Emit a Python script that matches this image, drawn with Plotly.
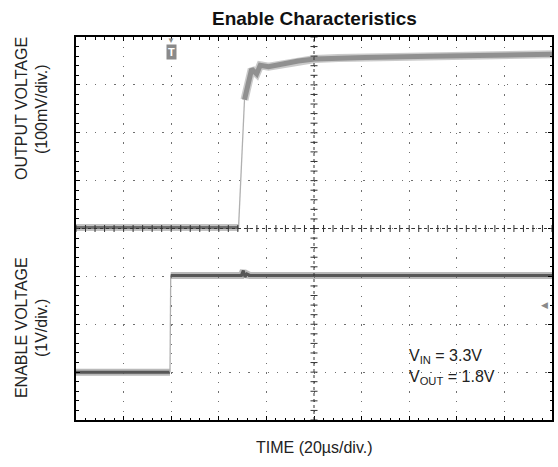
import numpy as np
import plotly.graph_objects as go

# ---------------- data ----------------
# Output voltage channel: time in µs (trigger at 0), value in mV above the channel baseline
out_t = [-40, 28.3, 29.05, 30.1, 30.8, 32.1, 33.4, 33.8, 35.9, 37.4, 40.9, 48.0,
         53.4, 60.4, 70.1, 81.3, 109, 137, 160]
out_mv = [2, 2, 80, 206, 269, 300, 327, 333, 323, 341, 338, 345,
          350, 354, 356, 357, 360, 362, 364]
# Enable voltage channel: time in µs, value in V
en_t = [-40, -0.5, -0.2, 29.5, 30.3, 31.0, 31.8, 33.0, 160]
en_v = [0, 0, 2.02, 2.02, 2.12, 1.99, 2.05, 2.02, 2.02]

title = "Enable Characteristics"
x_title = "TIME (20µs/div.)"
y1_lines = ["OUTPUT VOLTAGE", "(100mV/div.)"]
y2_lines = ["ENABLE VOLTAGE", "(1V/div.)"]
note_lines = ["V<sub>IN</sub> = 3.3V", "V<sub>OUT</sub> = 1.8V"]
trig_level_v = 1.4

FONT = "Liberation Sans, Arial, sans-serif"
W, H = 558, 467
ML, MR, MT, MB = 76, 4, 37, 47

fig = go.Figure()


def band(ts, vs, yaxis, outer, inner, wo, wi):
    fig.add_trace(go.Scatter(x=ts, y=vs, mode="lines", yaxis=yaxis,
                             line=dict(color=outer, width=wo),
                             hoverinfo="skip", showlegend=False))
    fig.add_trace(go.Scatter(x=ts, y=vs, mode="lines", yaxis=yaxis,
                             line=dict(color=inner, width=wi),
                             hoverinfo="skip", showlegend=False))


def edge(ts, vs, yaxis):
    fig.add_trace(go.Scatter(x=ts, y=vs, mode="lines", yaxis=yaxis,
                             line=dict(color="#b0b0b0", width=1.3),
                             hoverinfo="skip", showlegend=False))


# output trace: baseline, fast edge, settled top
band(out_t[:2], out_mv[:2], "y", "rgba(120,120,120,0.45)", "#6e6e6e", 7, 3)
edge(out_t[1:5], out_mv[1:5], "y")
band(out_t[4:], out_mv[4:], "y", "rgba(150,150,150,0.5)", "#909090", 8, 5)

# enable trace: low, edge, high
band(en_t[:2], en_v[:2], "y2", "rgba(100,100,100,0.45)", "#575757", 7, 3)
edge(en_t[1:3], en_v[1:3], "y2")
band(en_t[2:], en_v[2:], "y2", "rgba(100,100,100,0.45)", "#575757", 7, 3)

# minor tick marks along the centre graticule lines
xt = np.arange(-40, 160.1, 4)
yt = np.arange(-400, 400.1, 20)
fig.add_trace(go.Scatter(x=xt, y=[0] * len(xt), mode="markers",
                         marker=dict(symbol="line-ns", size=5,
                                     line=dict(width=1, color="#333")),
                         hoverinfo="skip", showlegend=False))
fig.add_trace(go.Scatter(x=[60] * len(yt), y=yt, mode="markers",
                         marker=dict(symbol="line-ew", size=5,
                                     line=dict(width=1, color="#333")),
                         hoverinfo="skip", showlegend=False))

grid_common = dict(showgrid=True, gridcolor="#707070", gridwidth=1.3,
                   griddash="1.3px,8.28px", zeroline=False,
                   showticklabels=False, ticks="inside", ticklen=4,
                   tickcolor="black", showline=True, linecolor="black",
                   linewidth=2, mirror="ticks")

fig.update_layout(
    width=W, height=H,
    margin=dict(l=ML, r=MR, t=MT, b=MB),
    plot_bgcolor="white", paper_bgcolor="white",
    font=dict(family=FONT, color="#222"),
    showlegend=False,
    xaxis=dict(range=[-40, 160], dtick=20,
               minor=dict(dtick=4, ticks="inside", ticklen=2.5,
                          tickcolor="black", showgrid=False),
               **grid_common),
    yaxis=dict(range=[-400, 400], dtick=100,
               minor=dict(dtick=20, ticks="inside", ticklen=2.5,
                          tickcolor="black", showgrid=False),
               **grid_common),
    yaxis2=dict(range=[-1, 7], overlaying="y", showgrid=False,
                zeroline=False, showticklabels=False, ticks="",
                showline=False),
    shapes=[
        dict(type="line", xref="x", yref="paper", x0=60, x1=60, y0=0, y1=1,
             line=dict(color="#333", width=1, dash="dot")),
        dict(type="line", xref="paper", yref="y", x0=0, x1=1, y0=0, y1=0,
             line=dict(color="#333", width=1, dash="dot")),
    ],
)

ann = []
ann.append(dict(text="<b>%s</b>" % title, xref="paper", yref="paper",
                x=0.5, y=1.047, yanchor="middle", showarrow=False,
                font=dict(size=19, family=FONT, color="#111")))
ann.append(dict(text=x_title, xref="paper", yref="paper", x=0.5, y=-0.073,
                yanchor="middle", showarrow=False,
                font=dict(size=16, family=FONT, color="#222")))
# y titles
for i, line in enumerate(y1_lines):
    ann.append(dict(text=line, xref="paper", yref="paper",
                    x=0, xanchor="center", xshift=-(55 - 20 * i),
                    y=0.812, yanchor="middle", textangle=-90, showarrow=False,
                    font=dict(size=16, family=FONT, color="#222")))
for i, line in enumerate(y2_lines):
    ann.append(dict(text=line, xref="paper", yref="paper",
                    x=0, xanchor="center", xshift=-(55 - 20 * i),
                    y=0.240, yanchor="middle", textangle=-90, showarrow=False,
                    font=dict(size=16, family=FONT, color="#222")))
# supply note
note_y = [0.1645, 0.111]
for line, yy in zip(note_lines, note_y):
    ann.append(dict(text=line, xref="x", yref="paper", x=99, xanchor="left",
                    y=yy, yanchor="middle", showarrow=False,
                    font=dict(size=16, family=FONT, color="#222")))
# trigger position marker
ann.append(dict(text="▼", xref="x", yref="paper", x=0, y=1, yanchor="top",
                yshift=3, showarrow=False,
                font=dict(size=8, color="#8a8a8a")))
ann.append(dict(text="<b>T</b>", xref="x", yref="paper", x=0, y=1,
                yanchor="top", yshift=-7, showarrow=False,
                bgcolor="#8a8a8a", borderpad=1,
                font=dict(size=11, family=FONT, color="white")))
# trigger level marker
ann.append(dict(text="◀", xref="paper", yref="y2", x=1, xanchor="right",
                xshift=-2, y=trig_level_v, yanchor="middle",
                showarrow=False, font=dict(size=9, color="#8a8a8a")))
fig.update_layout(annotations=ann)

fig.write_html("out.html",
               config={"displayModeBar": False},
               post_script="document.body.style.margin='0';"
                           "document.body.style.overflow='hidden';")
